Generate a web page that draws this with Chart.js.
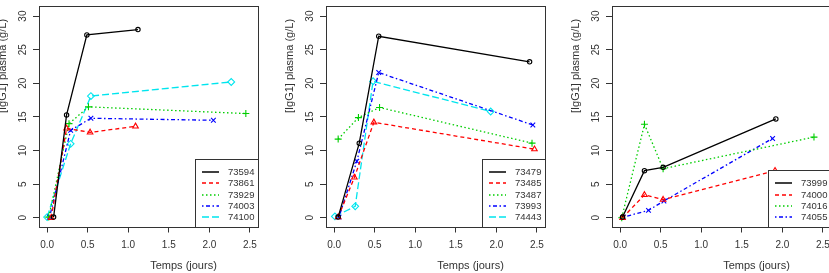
<!DOCTYPE html>
<html>
<head>
<meta charset="utf-8">
<script src="https://cdn.jsdelivr.net/npm/chart.js@4.4.1/dist/chart.umd.min.js"></script>
<style>
  html, body { margin: 0; padding: 0; background: #ffffff; }
  body { width: 829px; height: 273px; overflow: hidden; position: relative; }
  .panel { position: absolute; top: 0; width: 279px; height: 273px; }
  canvas { display: block; }
</style>
</head>
<body>
<div class="panel" style="left:-11px"><canvas id="c1" width="279" height="273" style="width:279px;height:273px"></canvas></div>
<div class="panel" style="left:276px"><canvas id="c2" width="279" height="273" style="width:279px;height:273px"></canvas></div>
<div class="panel" style="left:562px"><canvas id="c3" width="279" height="273" style="width:279px;height:273px"></canvas></div>
<script>
// ---------------- data ----------------
const xTicks = [0, 0.5, 1, 1.5, 2, 2.5];
const yTicks = [0, 5, 10, 15, 20, 25, 30];
const xTitle = 'Temps (jours)';
const yTitle = '[IgG1] plasma (g/L)';

const p1Labels = ['73594', '73861', '73929', '74003', '74100'];
const p1Times = [
  [0.08, 0.24, 0.49, 1.12],
  [0.05, 0.24, 0.53, 1.09],
  [0.02, 0.27, 0.51, 2.45],
  [0.03, 0.29, 0.54, 2.05],
  [0.00, 0.29, 0.54, 2.27]
];
const p1Values = [
  [0.1, 15.3, 27.2, 28.0],
  [0.0, 13.3, 12.7, 13.6],
  [0.1, 14.0, 16.5, 15.5],
  [0.1, 13.0, 14.8, 14.5],
  [0.1, 11.0, 18.1, 20.2]
];

const p2Labels = ['73479', '73485', '73487', '73993', '74443'];
const p2Times = [
  [0.05, 0.31, 0.55, 2.41],
  [0.05, 0.25, 0.49, 2.47],
  [0.05, 0.30, 0.56, 2.44],
  [0.06, 0.28, 0.55, 2.45],
  [0.01, 0.26, 0.48, 1.93]
];
const p2Values = [
  [0.1, 11.1, 27.0, 23.2],
  [0.1, 6.0, 14.2, 10.2],
  [11.7, 14.9, 16.4, 11.1],
  [0.1, 8.4, 21.6, 13.8],
  [0.2, 1.7, 20.3, 15.8]
];

const p3Labels = ['73999', '74000', '74016', '74055'];
const p3Times = [
  [0.03, 0.30, 0.53, 1.92],
  [0.03, 0.30, 0.53, 1.91],
  [0.02, 0.30, 0.53, 2.39],
  [0.04, 0.35, 0.54, 1.88]
];
const p3Values = [
  [0.1, 7.0, 7.5, 14.7],
  [0.0, 3.4, 2.7, 7.0],
  [0.0, 13.9, 7.3, 12.0],
  [0.1, 1.1, 2.5, 11.8]
];

// ---------------- styles ----------------
const FONT = '"Liberation Sans", Arial, Helvetica, sans-serif';
const INK = '#333333';
const seriesStyles = [
  { color: '#000000', dash: [],                   point: 'circle',   r: 2.2 },
  { color: '#FF0000', dash: [4, 3],               point: 'triangle', r: 3.2 },
  { color: '#00CD00', dash: [1.5, 2.5],           point: 'cross',    r: 3.5 },
  { color: '#0000FF', dash: [1.5, 2.5, 4, 2.5],   point: 'crossRot', r: 3.3 },
  { color: '#00E5EE', dash: [7, 3],               point: 'rectRot',  r: 3.4 }
];

Chart.defaults.font.family = FONT;

const rPlotPlugin = {
  id: 'rPlot',
  afterDraw(chart) {
    const { ctx, chartArea: a, scales } = chart;
    const labels = chart.config.options.plugins.rPlot.labels;
    ctx.save();
    // box
    ctx.strokeStyle = INK;
    ctx.lineWidth = 1;
    ctx.setLineDash([]);
    ctx.strokeRect(Math.round(a.left) + 0.5, Math.round(a.top) + 0.5,
                   Math.round(a.right - a.left), Math.round(a.bottom - a.top));
    // rotated y tick labels
    ctx.fillStyle = INK;
    ctx.font = '10px ' + FONT;
    ctx.textAlign = 'center';
    ctx.textBaseline = 'middle';
    yTicks.forEach(v => {
      const y = scales.y.getPixelForValue(v);
      ctx.save();
      ctx.translate(a.left - 15.5, y);
      ctx.rotate(-Math.PI / 2);
      ctx.fillText(String(v), 0, 0);
      ctx.restore();
    });
    // axis titles
    ctx.font = '11px ' + FONT;
    ctx.fillText(xTitle, (a.left + a.right) / 2 + 35, 265.5);
    ctx.save();
    ctx.translate(a.left - 36, 66);
    ctx.rotate(-Math.PI / 2);
    ctx.fillText(yTitle, 0, 0);
    ctx.restore();
    // legend (bottom-right, R style)
    const n = labels.length;
    const rowH = 11.2;
    const w = 63.5;
    const h = 13 + (n - 1) * rowH + 9.5;
    const lx = Math.round(a.right - w) + 0.5;
    const ly = Math.round(a.bottom - h) + 0.5;
    ctx.fillStyle = '#ffffff';
    ctx.fillRect(lx, ly, a.right - lx, a.bottom - ly);
    ctx.strokeStyle = INK;
    ctx.strokeRect(lx, ly, Math.round(a.right) - lx + 0.5, Math.round(a.bottom) - ly + 0.5);
    ctx.font = '9.5px ' + FONT;
    ctx.textAlign = 'left';
    labels.forEach((lab, i) => {
      const st = seriesStyles[i];
      const y = Math.round(a.bottom - 9.5 - (n - 1 - i) * rowH);
      ctx.save();
      ctx.strokeStyle = st.color;
      ctx.lineWidth = 1.5;
      ctx.setLineDash(st.dash);
      ctx.beginPath();
      ctx.moveTo(a.right - 56, y);
      ctx.lineTo(a.right - 39, y);
      ctx.stroke();
      ctx.restore();
      ctx.fillStyle = INK;
      ctx.fillText(lab, a.right - 30, y);
    });
    ctx.restore();
  }
};

function makePanel(id, labels, times, values) {
  const datasets = labels.map((lab, i) => {
    const st = seriesStyles[i];
    return {
      label: lab,
      data: times[i].map((t, j) => ({ x: t, y: values[i][j] })),
      borderColor: st.color,
      backgroundColor: 'rgba(0,0,0,0)',
      borderWidth: 1.3,
      borderDash: st.dash,
      tension: 0,
      fill: false,
      pointStyle: st.point,
      pointRadius: st.r,
      pointBorderColor: st.color,
      pointBackgroundColor: 'rgba(0,0,0,0)',
      pointBorderWidth: 1.1
    };
  });
  return new Chart(document.getElementById(id), {
    type: 'line',
    data: { datasets },
    plugins: [rPlotPlugin],
    options: {
      responsive: false,
      animation: false,
      devicePixelRatio: 1,
      events: [],
      layout: { padding: { left: 0, top: 6, right: 10, bottom: 0 } },
      plugins: {
        legend: { display: false },
        tooltip: { enabled: false },
        rPlot: { labels }
      },
      scales: {
        x: {
          type: 'linear',
          min: -0.1,
          max: 2.6,
          afterBuildTicks: s => { s.ticks = xTicks.map(v => ({ value: v })); },
          afterFit: s => { s.height = 46.5; },
          grid: { drawOnChartArea: false, drawTicks: true, tickLength: 6, color: INK, lineWidth: 1 },
          border: { display: false },
          ticks: {
            autoSkip: false,
            maxRotation: 0,
            padding: 7,
            color: INK,
            font: { size: 10, family: FONT },
            callback: v => Number(v).toFixed(1)
          }
        },
        y: {
          type: 'linear',
          min: -1.3,
          max: 31.5,
          afterBuildTicks: s => { s.ticks = yTicks.map(v => ({ value: v })); },
          afterFit: s => { s.width = 50; },
          grid: { drawOnChartArea: false, drawTicks: true, tickLength: 6, color: INK, lineWidth: 1 },
          border: { display: false },
          ticks: { display: false }
        }
      }
    }
  });
}

makePanel('c1', p1Labels, p1Times, p1Values);
makePanel('c2', p2Labels, p2Times, p2Values);
makePanel('c3', p3Labels, p3Times, p3Values);
</script>
</body>
</html>
